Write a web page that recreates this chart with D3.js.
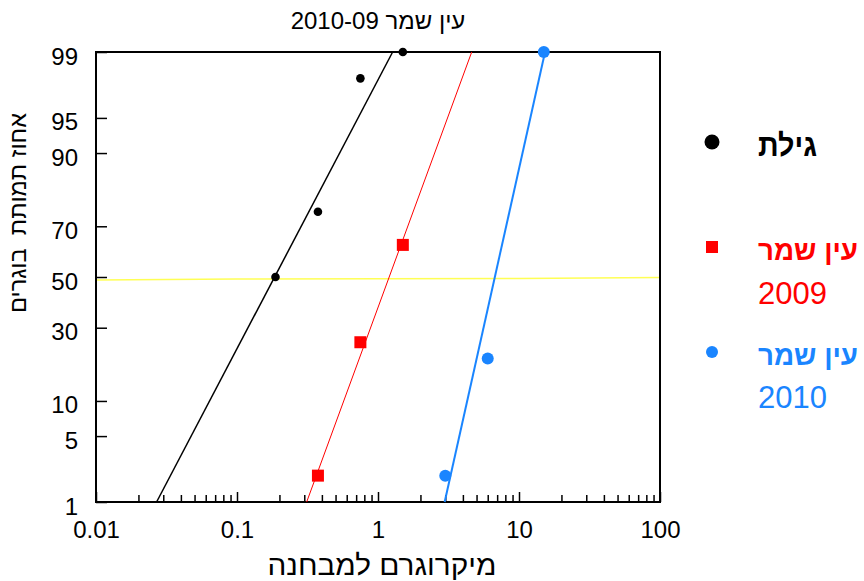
<!DOCTYPE html>
<html>
<head>
<meta charset="utf-8">
<script src="https://cdn.jsdelivr.net/npm/d3@7"></script>
<style>
  body { margin: 0; background: #fff; }
  text { font-family: "Liberation Sans", Arial, "DejaVu Sans", sans-serif; }
</style>
</head>
<body>
<script>
const yTicks = [1, 5, 10, 30, 50, 70, 90, 95, 99];
const xTicks = [0.01, 0.1, 1, 10, 100];
const xTickLabels = ["0.01", "0.1", "1", "10", "100"];

const giletX = [0.1875, 0.375, 0.75, 1.5];
const giletY = [50, 75, 98, 99];
const es2009X = [0.375, 0.75, 1.5];
const es2009Y = [2, 25, 63];
const es2010X = [3, 6, 15];
const es2010Y = [2, 20, 99];

const fitY = [1, 99];
const giletFitX = [0.0269, 1.27];
const es2009FitX = [0.312, 4.62];
const es2010FitX = [2.97, 15.3];

const refX = [0.01, 0.1, 10, 100];
const refY = [48.8, 49.2, 49.4, 49.8];

// inverse normal cdf (Acklam)
const probit = (p) => {
  const a = [-39.69683028665376, 220.9460984245205, -275.9285104469687, 138.3577518672690, -30.66479806614716, 2.506628277459239];
  const b = [-54.47609879822406, 161.5858368580409, -155.6989798598866, 66.80131188771972, -13.28068155288572];
  const c = [-0.007784894002430293, -0.3223964580411365, -2.400758277161838, -2.549732539343734, 4.374664141464968, 2.938163982698783];
  const d = [0.007784695709041462, 0.3224671290700398, 2.445134137142996, 3.754408661907416];
  const lo = 0.02425;
  if (p < lo) {
    const q = Math.sqrt(-2 * Math.log(p));
    return (((((c[0]*q+c[1])*q+c[2])*q+c[3])*q+c[4])*q+c[5]) / ((((d[0]*q+d[1])*q+d[2])*q+d[3])*q+1);
  }
  if (p > 1 - lo) {
    const q = Math.sqrt(-2 * Math.log(1 - p));
    return -(((((c[0]*q+c[1])*q+c[2])*q+c[3])*q+c[4])*q+c[5]) / ((((d[0]*q+d[1])*q+d[2])*q+d[3])*q+1);
  }
  const q = p - 0.5, r = q * q;
  return (((((a[0]*r+a[1])*r+a[2])*r+a[3])*r+a[4])*r+a[5])*q / (((((b[0]*r+b[1])*r+b[2])*r+b[3])*r+b[4])*r+1);
};

const width = 864, height = 581;
const margin = {top: 52, right: 204, bottom: 79, left: 96};
const innerW = width - margin.left - margin.right;
const innerH = height - margin.top - margin.bottom;

const x = d3.scaleLog().domain([0.01, 100]).range([0, innerW]);
const z = d3.scaleLinear().domain([probit(0.01), probit(0.99)]).range([innerH, 0]);
const y = p => z(probit(p / 100));

const svg = d3.select("body")
  .append("svg")
    .attr("width", width)
    .attr("height", height);

const g = svg.append("g")
    .attr("transform", `translate(${margin.left},${margin.top})`);

g.append("path")
    .datum(refX.map((v, i) => [v, refY[i]]))
    .attr("fill", "none")
    .attr("stroke", "#ffff55")
    .attr("stroke-width", 1.5)
    .attr("d", d3.line().x(d => x(d[0])).y(d => y(d[1])));

const minorTicks = [];
for (let k = 0; k < 4; k++) {
  for (let m = 2; m <= 9; m++) minorTicks.push(m * Math.pow(10, k - 2));
}

g.append("g")
    .attr("transform", `translate(0,${innerH})`)
    .call(d3.axisBottom(x).tickValues(minorTicks).tickSize(-7).tickFormat(""))
    .call(a => a.select(".domain").remove())
    .call(a => a.selectAll("line").attr("stroke", "#000").attr("stroke-width", 1.5));

g.append("g")
    .attr("transform", `translate(0,${innerH})`)
    .call(d3.axisBottom(x).tickValues(xTicks).tickSize(-10).tickPadding(19)
      .tickFormat((d, i) => xTickLabels[i]))
    .call(a => a.select(".domain").remove())
    .call(a => a.selectAll("line").attr("stroke", "#000").attr("stroke-width", 1.5))
    .call(a => a.selectAll("text").attr("font-size", 24).attr("fill", "#000")
      .style("font-family", "'Liberation Sans', Arial, sans-serif"));

g.append("g")
    .call(d3.axisLeft(z).tickValues(yTicks.map(v => probit(v / 100))).tickSize(-11).tickPadding(18)
      .tickFormat((d, i) => yTicks[i]))
    .call(a => a.select(".domain").remove())
    .call(a => a.selectAll("line").attr("stroke", "#000").attr("stroke-width", 1.5))
    .call(a => a.selectAll("text").attr("font-size", 24).attr("fill", "#000").attr("dy", "0.5em")
      .style("font-family", "'Liberation Sans', Arial, sans-serif"));

g.append("rect")
    .attr("width", innerW)
    .attr("height", innerH)
    .attr("fill", "none")
    .attr("stroke", "#000")
    .attr("stroke-width", 2);

const fitLine = d3.line().x(d => x(d[0])).y(d => y(d[1]));
const fits = [
  {xs: giletFitX, color: "#000", w: 1.5},
  {xs: es2009FitX, color: "#ff0000", w: 1},
  {xs: es2010FitX, color: "#1a85ff", w: 2}
];
g.selectAll(".fit")
  .data(fits)
  .enter().append("path")
    .attr("class", "fit")
    .attr("fill", "none")
    .attr("stroke", d => d.color)
    .attr("stroke-width", d => d.w)
    .attr("d", d => fitLine(d.xs.map((v, i) => [v, fitY[i]])));

g.selectAll(".gilet")
  .data(giletX.map((v, i) => [v, giletY[i]]))
  .enter().append("circle")
    .attr("class", "gilet")
    .attr("cx", d => x(d[0]))
    .attr("cy", d => y(d[1]))
    .attr("r", 4.3)
    .attr("fill", "#000");

g.selectAll(".es2009")
  .data(es2009X.map((v, i) => [v, es2009Y[i]]))
  .enter().append("rect")
    .attr("class", "es2009")
    .attr("x", d => x(d[0]) - 6)
    .attr("y", d => y(d[1]) - 6)
    .attr("width", 12)
    .attr("height", 12)
    .attr("fill", "#ff0000");

g.selectAll(".es2010")
  .data(es2010X.map((v, i) => [v, es2010Y[i]]))
  .enter().append("circle")
    .attr("class", "es2010")
    .attr("cx", d => x(d[0]))
    .attr("cy", d => y(d[1]))
    .attr("r", 6)
    .attr("fill", "#1a85ff");

svg.append("text")
    .attr("x", 378)
    .attr("y", 29)
    .attr("direction", "rtl")
    .attr("text-anchor", "middle")
    .attr("font-size", 24)
    .text("עין שמר 2010-09");

svg.append("text")
    .attr("x", 382)
    .attr("y", 575)
    .attr("text-anchor", "middle")
    .attr("font-size", 28)
    .attr("textLength", 229)
    .attr("lengthAdjust", "spacingAndGlyphs")
    .text("מיקרוגרם למבחנה");

svg.append("text")
    .attr("transform", "translate(26,213) rotate(-90)")
    .attr("text-anchor", "middle")
    .attr("font-size", 23)
    .attr("textLength", 200)
    .attr("lengthAdjust", "spacingAndGlyphs")
    .style("white-space", "pre")
    .text("אחוז תמותת  בוגרים");

const legend = svg.append("g");
legend.append("circle").attr("cx", 712).attr("cy", 142).attr("r", 7.5).attr("fill", "#000");
legend.append("text").attr("x", 758).attr("y", 156).attr("font-size", 31).attr("font-weight", "bold")
    .attr("fill", "#000").attr("textLength", 59).attr("lengthAdjust", "spacingAndGlyphs").text("גילת");

legend.append("rect").attr("x", 706).attr("y", 241).attr("width", 12).attr("height", 12).attr("fill", "#ff0000");
legend.append("text").attr("x", 758).attr("y", 260).attr("font-size", 28).attr("font-weight", "bold")
    .attr("fill", "#ff0000").attr("textLength", 100).attr("lengthAdjust", "spacingAndGlyphs").text("עין שמר");
legend.append("text").attr("x", 758).attr("y", 304).attr("font-size", 31)
    .attr("fill", "#ff0000").text("2009");

legend.append("circle").attr("cx", 712).attr("cy", 352).attr("r", 6).attr("fill", "#1a85ff");
legend.append("text").attr("x", 758).attr("y", 365).attr("font-size", 28).attr("font-weight", "bold")
    .attr("fill", "#1a85ff").attr("textLength", 100).attr("lengthAdjust", "spacingAndGlyphs").text("עין שמר");
legend.append("text").attr("x", 758).attr("y", 408).attr("font-size", 31)
    .attr("fill", "#1a85ff").text("2010");
</script>
</body>
</html>
